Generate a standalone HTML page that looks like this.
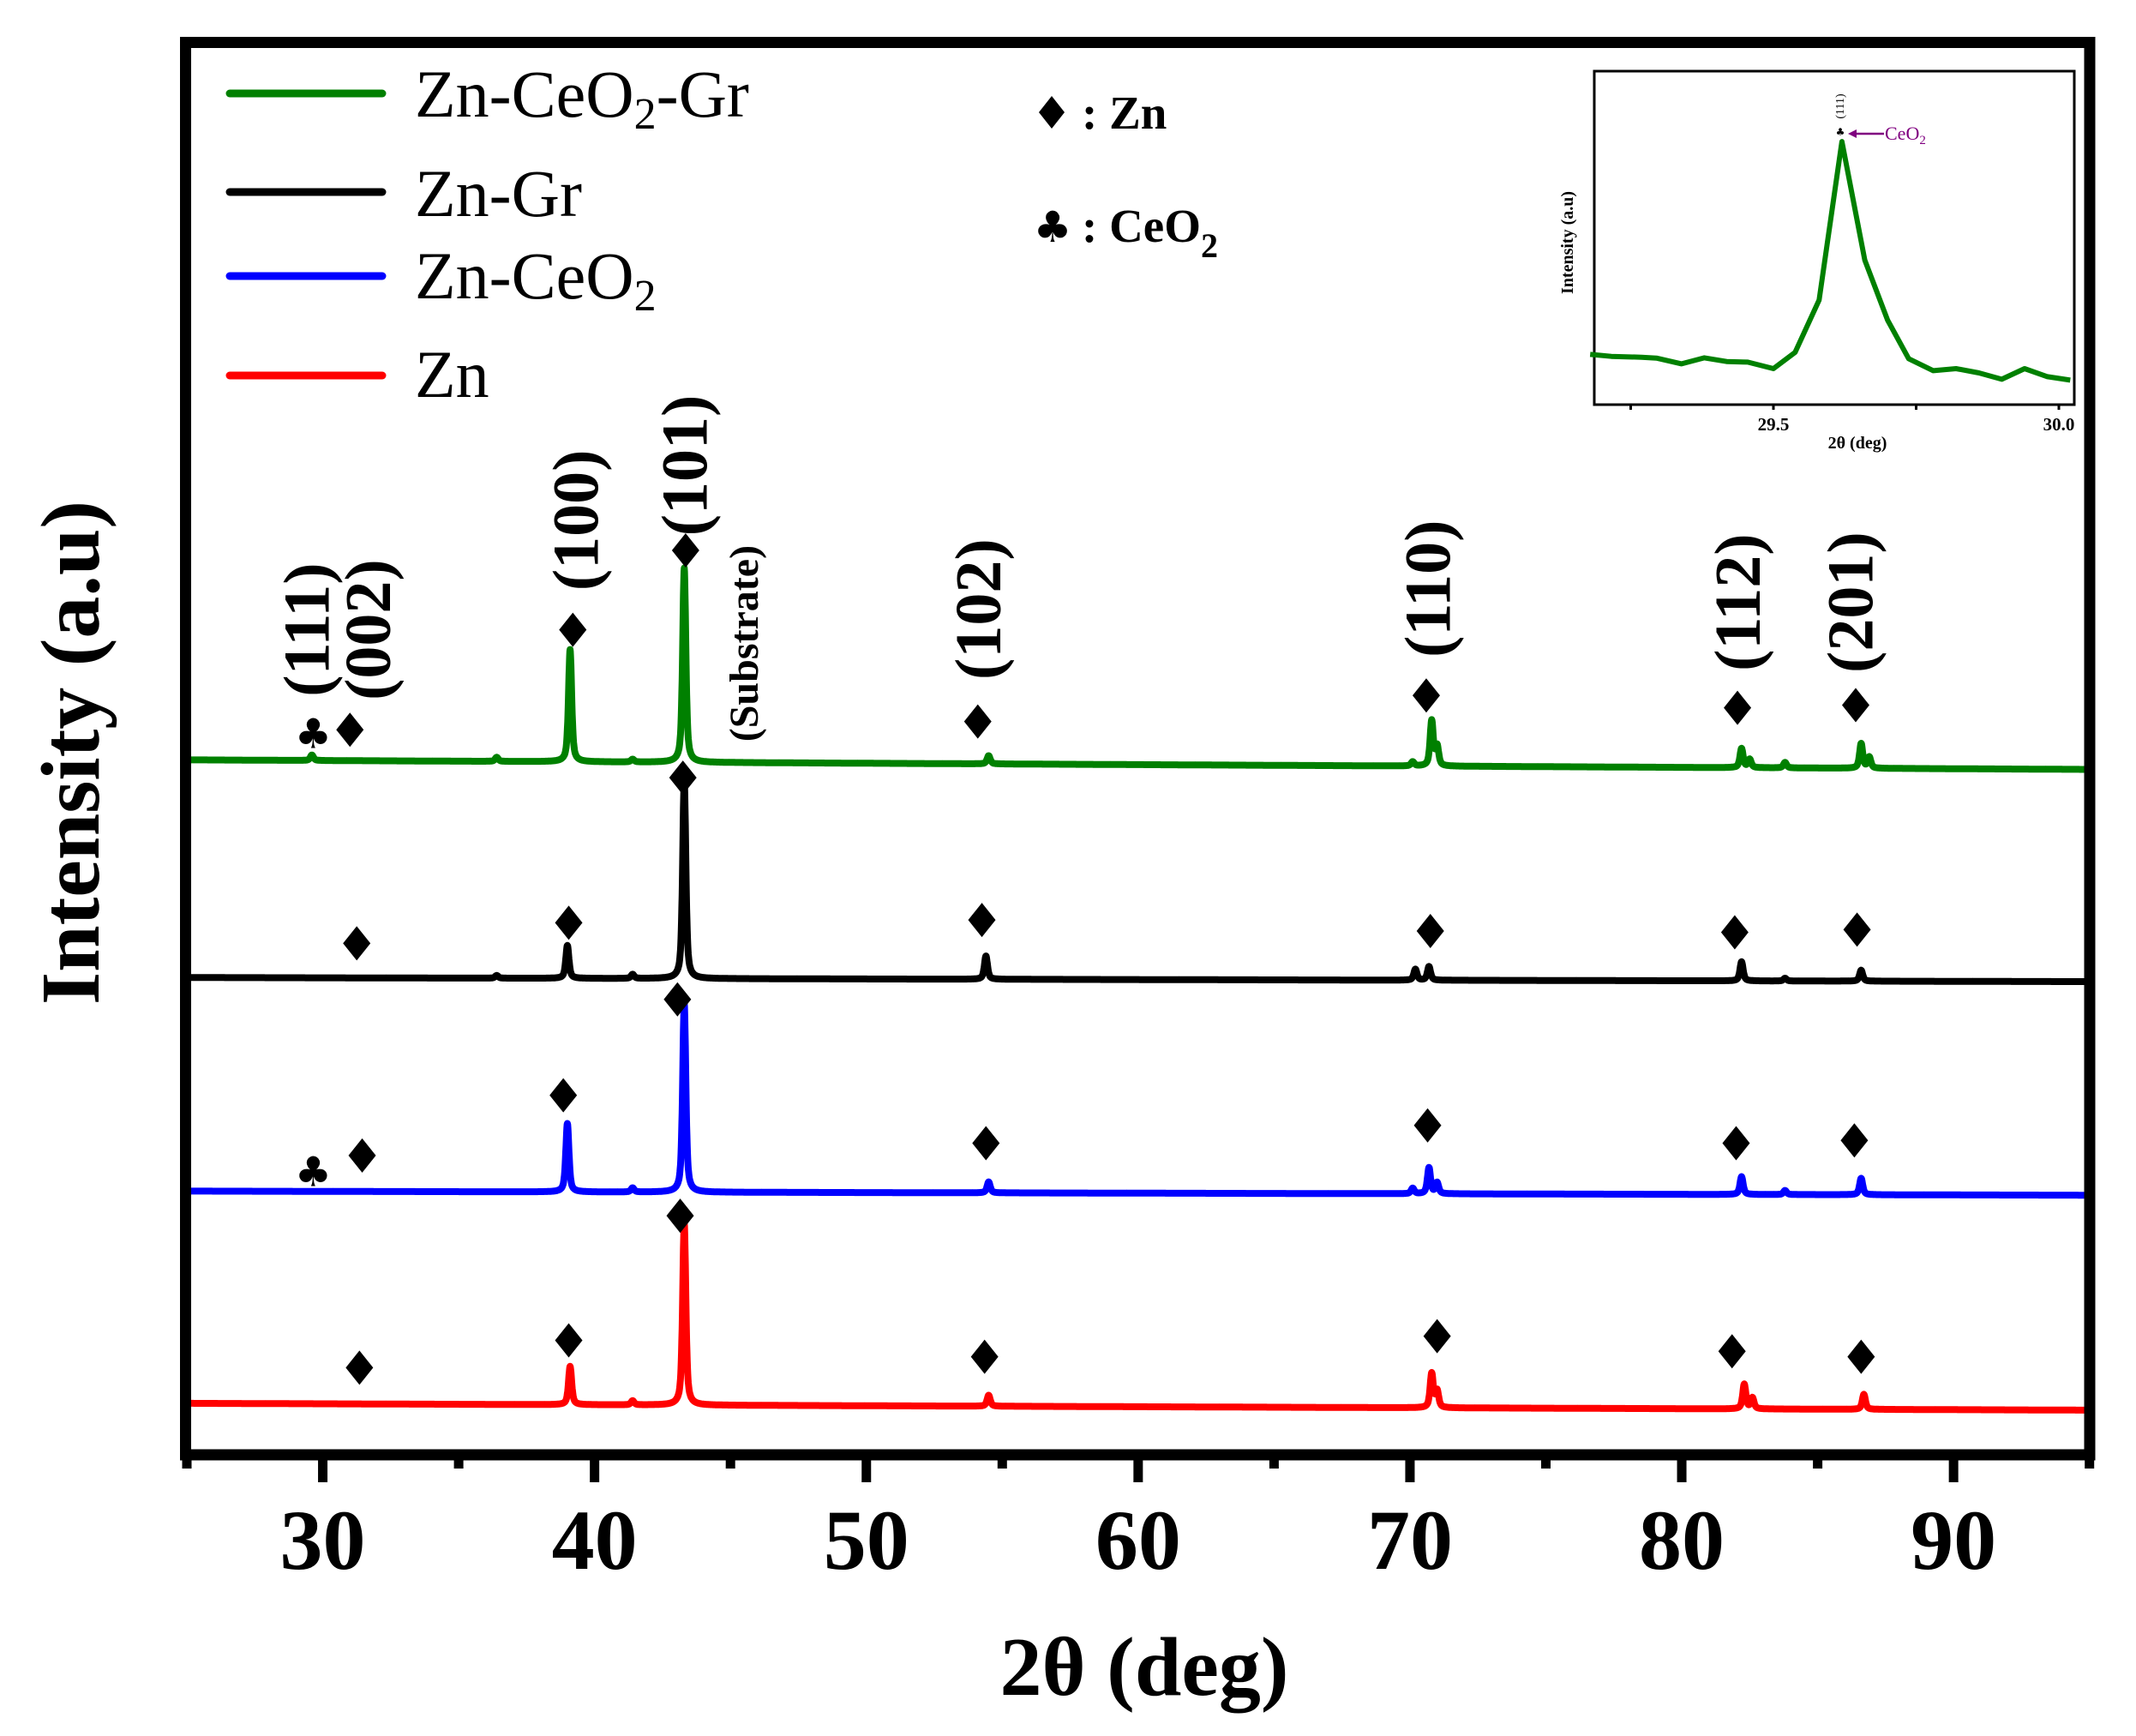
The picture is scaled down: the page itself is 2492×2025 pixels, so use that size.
<!DOCTYPE html>
<html><head><meta charset="utf-8"><style>
html,body{margin:0;padding:0;background:#fff;}
svg{display:block;}
text{font-family:"Liberation Serif","DejaVu Serif",serif;}
</style></head><body>
<svg id="chart" width="2492" height="2025" viewBox="0 0 2492 2025" xmlns="http://www.w3.org/2000/svg">
<rect width="2492" height="2025" fill="#fff"/>
<g id="series"></g>
<g id="markers"></g>
<rect x="216.5" y="49.5" width="2221.5" height="1647.5" fill="none" stroke="#000" stroke-width="13"/>
<g id="xticks"></g>
<text x="1335" y="1977" font-size="98" font-weight="bold" text-anchor="middle">2θ (deg)</text>
<text transform="translate(115,878) rotate(-90)" font-size="98" font-weight="bold" text-anchor="middle">Intensity (a.u)</text>

<g>
<line x1="268" y1="109" x2="446" y2="109" stroke="#008000" stroke-width="9" stroke-linecap="round"/>
<text x="484" y="136" font-size="78">Zn-CeO<tspan font-size="52" dy="14">2</tspan><tspan dy="-14">-Gr</tspan></text>
<line x1="268" y1="224" x2="446" y2="224" stroke="#000" stroke-width="9" stroke-linecap="round"/>
<text x="484" y="252" font-size="78">Zn-Gr</text>
<line x1="268" y1="322" x2="446" y2="322" stroke="#0000ff" stroke-width="9" stroke-linecap="round"/>
<text x="484" y="348" font-size="78">Zn-CeO<tspan font-size="52" dy="14">2</tspan></text>
<line x1="268" y1="438" x2="446" y2="438" stroke="#ff0000" stroke-width="9" stroke-linecap="round"/>
<text x="484" y="463" font-size="78">Zn</text>
</g>

<g>
<polygon points="1227,112 1242,131 1227,150 1212,131" fill="#000"/>
<text x="1262" y="150" font-size="55" font-weight="bold">: Zn</text>
<text x="1228" y="282" font-size="50" text-anchor="middle" style="font-family:'DejaVu Sans',sans-serif">♣</text>
<text x="1262" y="282" font-size="55" font-weight="bold">: CeO<tspan font-size="40" dy="18">2</tspan></text>
</g>

<g id="plabels"></g>

<g>
<rect x="1860" y="83" width="560" height="389" fill="#fff" stroke="#000" stroke-width="3"/>
<g id="inset-g"></g>
<text x="2167" y="523" font-size="20" font-weight="bold" text-anchor="middle">2θ (deg)</text>
<text transform="translate(1835,283) rotate(-90)" font-size="20" font-weight="bold" text-anchor="middle">Intensity (a.u)</text>
<text transform="translate(2151,124) rotate(-90)" font-size="14" text-anchor="middle">(111)</text>
<text x="2147" y="158" font-size="12" text-anchor="middle" style="font-family:'DejaVu Sans',sans-serif">♣</text>
<line x1="2162" y1="156" x2="2198" y2="156" stroke="#800080" stroke-width="2.5"/>
<polygon points="2156,156 2166,151 2166,161" fill="#800080"/>
<text x="2199" y="163" font-size="22" fill="#800080">CeO<tspan font-size="15" dy="5">2</tspan></text>
</g>
</svg>
<script>
// ---- main chart data (2θ in deg, intensity in a.u.) ----
const seriesNames = ["Zn-CeO2-Gr","Zn-Gr","Zn-CeO2","Zn"];
const seriesColors = ["#008000","#000000","#0000ff","#ff0000"];
const baseStart = [520, 361, 205, 50];
const baseEnd = [513, 358, 202, 45];
const peaksGreen = [[29.6,4],[36.4,3],[39.1,82],[41.4,2],[43.3,142],[54.5,6],[70.1,3],[70.8,33],[71.0,14],[82.2,14],[82.5,6],[83.8,4],[86.6,18],[86.9,8]];
const peaksBlack = [[36.4,2],[39.0,24],[41.4,3],[43.3,145],[54.4,17],[70.2,8],[70.7,10],[82.2,14],[83.8,2],[86.6,8]];
const peaksBlue = [[39.0,50],[41.4,3],[43.3,138],[54.5,8],[70.1,4],[70.7,19],[71.0,8],[82.2,13],[83.8,3],[86.6,12]];
const peaksRed = [[39.1,28],[41.4,3],[43.3,133],[54.5,8],[70.8,25],[71.0,12],[82.3,18],[82.6,8],[86.7,11]];
const xTicks = [30,40,50,60,70,80,90];
const xTickLabels = ["30","40","50","60","70","80","90"];
const diamondMarks = [[31.0,542],[39.2,615],[43.35,673],[54.1,548],[70.6,567],[82.05,558],[86.4,560],
 [31.25,386],[39.05,401],[43.25,507],[54.25,403],[70.75,395],[81.95,394],[86.45,396],
 [31.45,231],[38.85,275],[43.05,345],[54.4,240],[70.65,253],[82.0,240],[86.35,242],
 [31.35,76],[39.05,96],[43.15,187],[54.35,84],[71.0,99],[81.85,88],[86.6,84]];
const clubMarks = [[29.65,540],[29.65,220]];
const peakLabels = ["(111)","(002)","(100)","(101)","(Substrate)","(102)","(110)","(112)","(201)"];
const peakLabelX = [29.4,31.65,39.3,43.3,45.5,54.1,70.65,82.05,86.2];
const peakLabelY = [615,615,695,735,605,630,645,635,635];
// ---- inset data ----
const insetX = [29.179,29.216,29.269,29.295,29.339,29.379,29.418,29.455,29.5,29.538,29.58,29.62,29.66,29.70,29.737,29.78,29.82,29.86,29.90,29.94,29.98,30.02];
const insetY = [17.5,16.8,16.5,16.2,14.2,16.3,15,14.8,12.5,18.2,36.5,92,50.5,29.5,16,11.8,12.5,11,8.8,12.5,9.7,8.5];
const insetTicks = [29.25,29.5,29.75,30.0];
const insetTickLabels = ["","29.5","","30.0"];

const NS="http://www.w3.org/2000/svg";
function xS(d){return 218+(d-25)*31.71;}
function yS(v){return (1075-v)*1.597;}
function ixS(d){return 2069+(d-29.5)*666;}
function iyS(v){return 471.7-3.333*v;}
function mk(tag,attrs,parent){const e=document.createElementNS(NS,tag);for(const k in attrs)e.setAttribute(k,attrs[k]);parent.appendChild(e);return e;}

const allPeaks=[peaksGreen,peaksBlack,peaksBlue,peaksRed];
const sg=document.getElementById('series');
for(let s=0;s<4;s++){
  let d="";const g=0.07;
  for(let x=25.15;x<=95.0001;x+=0.01){
    let v=baseStart[s]+(baseEnd[s]-baseStart[s])*(x-25)/70;
    for(const p of allPeaks[s]){const t=(x-p[0])/g;v+=p[1]*(0.6/(1+t*t)+0.4*Math.exp(-t*t*0.7));}
    d+=(d?"L":"M")+xS(x).toFixed(1)+","+yS(v).toFixed(1);
  }
  const p=mk('path',{d:d,fill:'none',stroke:seriesColors[s],'stroke-width':8,'stroke-linejoin':'round'},sg);
  
  
}
const mg=document.getElementById('markers');
diamondMarks.forEach(m=>{
  const cx=xS(m[0]),cy=yS(m[1]);
  const p=mk('polygon',{points:`${cx},${cy-20} ${cx+16},${cy} ${cx},${cy+20} ${cx-16},${cy}`,fill:'#000'},mg);
  
  
});
clubMarks.forEach(m=>{
  const t=mk('text',{x:xS(m[0]),y:yS(m[1])+18,'font-size':48,'text-anchor':'middle',style:"font-family:'DejaVu Sans',sans-serif"},mg);
  t.textContent="♣";
  
  
});
const pl=document.getElementById('plabels');
peakLabels.forEach((l,i)=>{
  const sub=l==="(Substrate)";
  const t=mk('text',{transform:`translate(${xS(peakLabelX[i])+(sub?16:26)},${yS(peakLabelY[i])}) rotate(-90)`,'font-size':sub?48:76,'font-weight':'bold','text-anchor':'middle'},pl);
  t.textContent=l;
  
  
});
const xt=document.getElementById('xticks');
for(let v=25;v<=95;v+=5){
  const major=v%10===0;
  const l=mk('line',{x1:xS(v),x2:xS(v),y1:1703,y2:major?1729:1713,stroke:'#000','stroke-width':11},xt);
  
  
}
xTicks.forEach((v,i)=>{
  const t=mk('text',{x:xS(v),y:1830,'font-size':100,'font-weight':'bold','text-anchor':'middle'},xt);
  t.textContent=xTickLabels[i];
  
  
});
const ig=document.getElementById('inset-g');
let idd="";insetX.forEach((x,i)=>{idd+=(i?"L":"M")+ixS(x).toFixed(1)+","+iyS(insetY[i]).toFixed(1);});
const ip=mk('path',{d:idd,fill:'none',stroke:'#008000','stroke-width':6,'stroke-linejoin':'round'},ig);


insetTicks.forEach((v,i)=>{
  const l=mk('line',{x1:ixS(v),x2:ixS(v),y1:472,y2:478,stroke:'#000','stroke-width':3},ig);
  
  
  if(insetTickLabels[i]){
    const t=mk('text',{x:ixS(v),y:502,'font-size':21,'font-weight':'bold','text-anchor':'middle'},ig);
    t.textContent=insetTickLabels[i];
    
    
  }
});
</script>
</body></html>
